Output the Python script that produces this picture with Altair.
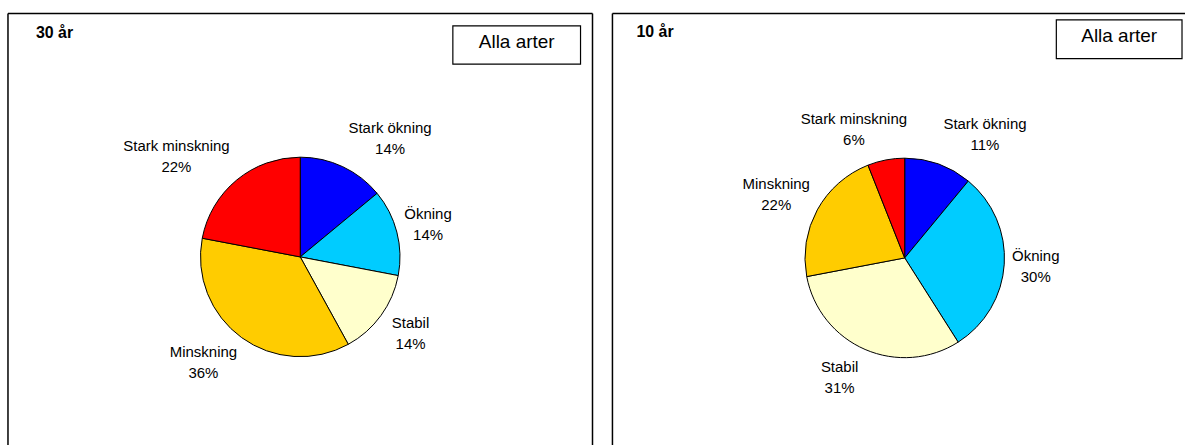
import altair as alt
import pandas as pd

# Species trend classes, shares in percent (30-year and 10-year trends)
categories = ["Stark ökning", "Ökning", "Stabil", "Minskning", "Stark minskning"]
share_30 = [14, 14, 14, 36, 22]
share_10 = [11, 30, 31, 22, 6]
slice_colors = ["#0000FF", "#00CCFF", "#FFFFCC", "#FFCC00", "#FF0000"]
panel_titles = ["30 år", "10 år"]
box_text = "Alla arter"

FONT = "Liberation Sans"
PIE_R = 100      # pie radius in px
LABEL_R = 110    # distance of the label anchor from the pie centre
HALF_H = 21      # half height of a two-line label
LINE_H = 21      # line spacing inside a label
PANEL_H = 433

one_row = pd.DataFrame({"k": [0]})


def rule(x, x2, y, y2):
    return alt.Chart(one_row).mark_rule(color="black", strokeWidth=1.5).encode(
        x=alt.value(x), x2=alt.value(x2), y=alt.value(y), y2=alt.value(y2)
    )


def panel(title, shares, width, cx, cy, box, title_xy, closed_right):
    df = pd.DataFrame(
        {"kategori": categories, "andel": shares, "ordning": list(range(len(categories)))}
    )
    base = alt.Chart(df)

    pie = base.mark_arc(radius=PIE_R, stroke="black", strokeWidth=1).encode(
        theta=alt.Theta("andel:Q", stack=True),
        color=alt.Color(
            "kategori:N",
            scale=alt.Scale(domain=categories, range=slice_colors),
            legend=None,
        ),
        order=alt.Order("ordning:Q"),
        x=alt.value(cx),
        y=alt.value(cy),
    )

    # Labels sit outside the slice, their box touching the mid-angle ray;
    # the first line is placed half a line above the block centre.
    labels = (
        base.transform_joinaggregate(total="sum(andel)")
        .transform_window(
            cum="sum(andel)",
            sort=[alt.SortField("ordning", order="ascending")],
            frame=[None, 0],
        )
        .transform_calculate(
            mid="2*PI*(datum.cum - datum.andel/2)/datum.total",
        )
        .transform_calculate(
            lx=f"{cx} + {LABEL_R}*sin(datum.mid)"
               f" + 3.6*length(datum.kategori)*clamp(3*sin(datum.mid), -1, 1)",
            ly=f"{cy} - {LABEL_R}*cos(datum.mid) - {HALF_H}*cos(datum.mid) - {LINE_H / 2}",
            txt="datum.kategori + '\\n' + datum.andel + '%'",
        )
        .mark_text(
            font=FONT, fontSize=15, lineHeight=LINE_H, lineBreak="\n",
            align="center", baseline="middle", color="black",
        )
        .encode(
            x=alt.X("lx:Q", scale=None),
            y=alt.Y("ly:Q", scale=None),
            text="txt:N",
        )
    )

    bx, bx2, by, by2 = box
    legend_box = alt.Chart(one_row).mark_rect(
        fill="white", stroke="black", strokeWidth=1.2
    ).encode(x=alt.value(bx), x2=alt.value(bx2), y=alt.value(by), y2=alt.value(by2))
    legend_text = alt.Chart(one_row).mark_text(
        font=FONT, fontSize=19, align="center", baseline="alphabetic", color="black"
    ).encode(
        x=alt.value((bx + bx2) / 2),
        y=alt.value(by + 22.4),
        text=alt.value(box_text),
    )

    head = alt.Chart(one_row).mark_text(
        font=FONT, fontSize=16, fontWeight="bold", align="left",
        baseline="alphabetic", color="black",
    ).encode(x=alt.value(title_xy[0]), y=alt.value(title_xy[1]), text=alt.value(title))

    frame = [rule(0, width, 0, 0), rule(0, 0, 0, PANEL_H)]
    if closed_right:
        frame.append(rule(width, width, 0, PANEL_H))

    return alt.layer(pie, labels, legend_box, legend_text, head, *frame).properties(
        width=width, height=PANEL_H
    )


left = panel(panel_titles[0], share_30, 586, 293, 244, (446, 574, 12.3, 50.7), (28, 25), True)
right = panel(panel_titles[1], share_10, 574, 293, 245, (445, 571, 6.3, 45.3), (24, 24), False)

chart = (
    alt.hconcat(left, right, spacing=18)
    .properties(padding={"left": 7, "top": 12, "right": 0, "bottom": 0}, background="white")
    .configure_view(stroke=None)
)

chart.save("out.html", embed_options={"renderer": "svg", "actions": False})
